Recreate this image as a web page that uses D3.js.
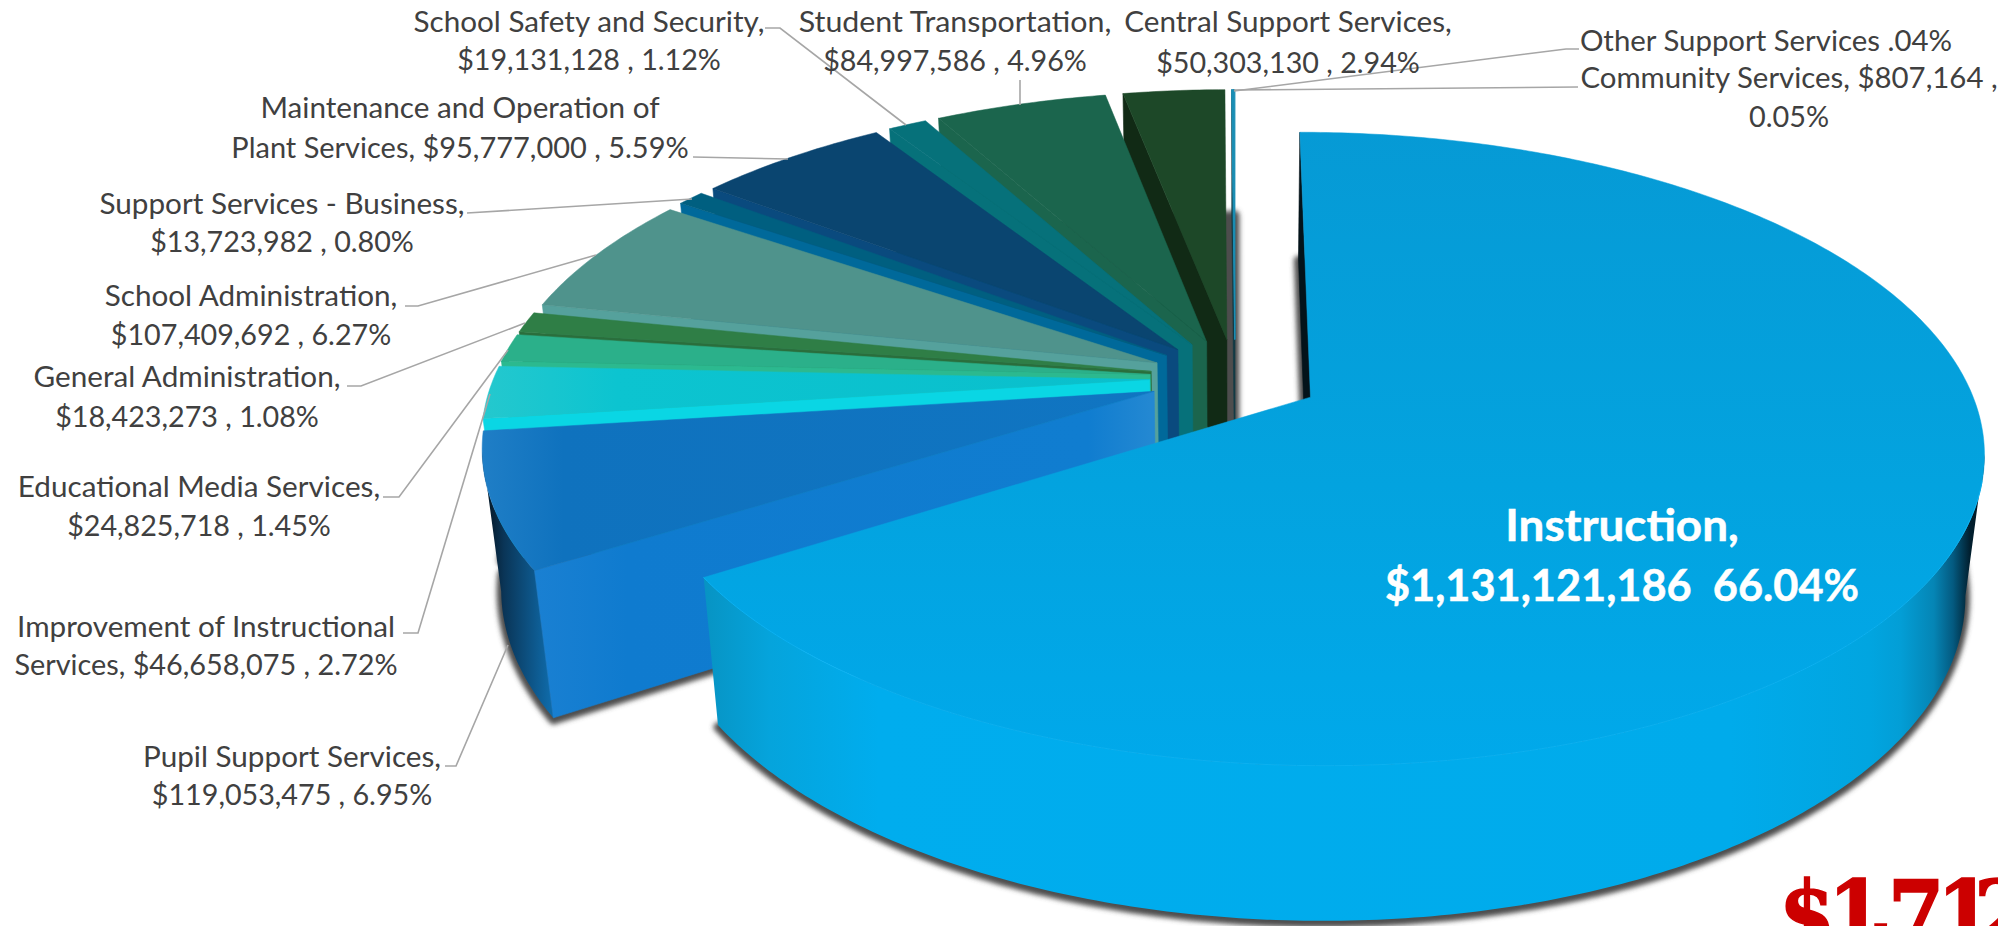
<!DOCTYPE html>
<html>
<head>
<meta charset="utf-8">
<title>General Fund Expenditures by Function</title>
<script src="https://cdn.jsdelivr.net/npm/d3@7/dist/d3.min.js"></script>
<style>
  html, body { margin: 0; padding: 0; background: #fff; overflow: hidden; }
  text { font-family: Lato, "Open Sans", sans-serif; white-space: pre; }
</style>
</head>
<body>
<svg id="chart" width="1998" height="926"></svg>
<script>
// Budget lines, in pie order starting from the top and running clockwise.
const categories = [
  "Instruction", "Pupil Support Services", "Improvement of Instructional Services",
  "Educational Media Services", "General Administration", "School Administration",
  "Support Services - Business", "Maintenance and Operation of Plant Services",
  "School Safety and Security", "Student Transportation", "Central Support Services",
  "Community Services", "Other Support Services"
];
const amounts = [
  1131121186, 119053475, 46658075, 24825718, 18423273, 107409692,
  13723982, 95777000, 19131128, 84997586, 50303130, 807164, 685000
];
const labelLines = [
  ["Instruction,", "$1,131,121,186  66.04%"],
  ["Pupil Support Services,", "$119,053,475 , 6.95%"],
  ["Improvement of Instructional", "Services, $46,658,075 , 2.72%"],
  ["Educational Media Services,", "$24,825,718 , 1.45%"],
  ["General Administration,", "$18,423,273 , 1.08%"],
  ["School Administration,", "$107,409,692 , 6.27%"],
  ["Support Services - Business,", "$13,723,982 , 0.80%"],
  ["Maintenance and Operation of", "Plant Services, $95,777,000 , 5.59%"],
  ["School Safety and Security,", "$19,131,128 , 1.12%"],
  ["Student Transportation,", "$84,997,586 , 4.96%"],
  ["Central Support Services,", "$50,303,130 , 2.94%"],
  ["Community Services, $807,164 ,", "0.05%"],
  ["Other Support Services .04%"]
];
const totalLabel = "$1,712";

// Face colours per slice: top surface, cut face, outer wall.
const topColors = ["#03A2DE", "#0F73BE", "#0CC3D0", "#2BB08A", "#2F7E46", "#4F938C", "#005F80", "#0A4570", "#06717A", "#1B654D", "#1D4828", "#1B8FB5", "#1B8FB5"];
const cutColors = ["#03131A", "#107CCF", "#0AD6E4", "#2CB98F", "#2A6E3C", "#55A19C", "#00699A", "#0A4A7E", "#06717A", "#1B654D", "#112A15", "#123A44", "#123A44"];
const wallColors = ["#00AEEF", "#0B5F9E", "#0AA6B0", "#23916F", "#255F36", "#3F7A74", "#004A66", "#083A60", "#055A62", "#154F3C", "#142F1A", "#123A44", "#123A44"];

// Centre, in-plane scale, thickness and perspective of the tilted disc.
const view = { cx: 1235, cy: 378, a: 656, b: 302, k: 0.162, m: 0.025, h: 142, explode: 0.13, startDeg: 0 };

function project(x, y, z) {
  const w = 1 - view.k * y + view.m * z;
  return [view.cx + view.a * x / w, view.cy + (view.b * y + view.h * z) / w];
}

// Text blocks: horizontal centre, line centres, per-line stretch.
const labelLayout = [
  { x: 1622, y: [526, 586], size: 44, weight: 700, fill: "#fff", sx: [1.04, 0.985] },
  { x: 292, y: [757, 795] },
  { x: 206, y: [627, 665], sx: [1.06, 1.03] },
  { x: 199, y: [487, 526] },
  { x: 187, y: [377, 417] },
  { x: 251, y: [296, 335] },
  { x: 282, y: [204, 242] },
  { x: 460, y: [108, 148], sx: [1.06, 1.035] },
  { x: 589, y: [22, 60] },
  { x: 955, y: [22, 61], sx: [1.085, 1.025] },
  { x: 1288, y: [22, 63] },
  { x: 1789, y: [78, 117], sx: [1.05, 1.03] },
  { x: 1766, y: [41], sx: [1.05] }
];
const leaderPaths = [
  null,
  [[445, 766], [456, 766], [508, 645]],
  [[403, 633], [418, 633], [490, 394]],
  [[383, 497], [399, 497], [508, 350]],
  [[347, 386], [361, 386], [525, 323]],
  [[405, 306], [418, 306], [596, 255]],
  [[467, 213], [692, 199]],
  [[693, 157], [788, 159]],
  [[765, 28], [780, 28], [906, 125]],
  [[1020, 80], [1020, 105]],
  null,
  [[1578, 87], [1234, 90]],
  [[1579, 49], [1566, 49], [1234, 91]]
];

const svg = d3.select("#chart");
const defs = svg.append("defs");

defs.append("filter").attr("id", "soften").attr("x", "-10%").attr("y", "-10%").attr("width", "120%").attr("height", "120%")
  .append("feGaussianBlur").attr("stdDeviation", 2.6);

function gradient(id, stops, x1, y1, x2, y2) {
  const g = defs.append("linearGradient").attr("id", id)
    .attr("gradientUnits", "userSpaceOnUse")
    .attr("x1", x1).attr("y1", y1).attr("x2", x2).attr("y2", y2);
  stops.forEach(([o, c]) => g.append("stop").attr("offset", o).attr("stop-color", c));
  return `url(#${id})`;
}

const instructionTop = gradient("instructionTop", [[0, "#069AD5"], [0.55, "#03A3DF"], [1, "#00A9EB"]], 0, 130, 0, 775);
const instructionWall = gradient("instructionWall",
  [[0, "#0794C4"], [0.05, "#05A4DC"], [0.135, "#00ADEE"], [0.8, "#00ABEB"], [0.91, "#01A5E0"], [0.934, "#039ED6"], [0.96, "#0585B5"], [0.975, "#045A80"], [0.988, "#012030"], [1, "#02141E"]],
  706, 0, 1985, 0);
const pupilTop = gradient("pupilTop", [[0, "#1F7EC6"], [0.12, "#0F72BE"], [1, "#1075C2"]], 483, 0, 1150, 0);
const pupilCut = gradient("pupilCut", [[0, "#1A80D2"], [0.15, "#0F7BCF"], [0.9, "#107DD0"], [1, "#2388D2"]], 535, 0, 1150, 0);
const pupilWall = gradient("pupilWall", [[0, "#04121E"], [0.3, "#0A3557"], [1, "#0F6AA8"]], 484, 0, 550, 0);
const improvementTop = gradient("improvementTop", [[0, "#24C8CE"], [0.2, "#0CC4D0"], [1, "#0ABFCC"]], 484, 0, 1150, 0);

const topFill = i => i === 0 ? instructionTop : i === 1 ? pupilTop : i === 2 ? improvementTop : topColors[i];
const cutFill = i => i === 1 ? pupilCut : cutColors[i];
const wallFill = i => i === 0 ? instructionWall : i === 1 ? pupilWall : wallColors[i];

const startRad = view.startDeg * Math.PI / 180;
const arcs = d3.pie().sort(null).value(d => d).startAngle(startRad).endAngle(startRad + 2 * Math.PI)(amounts);

const line = d3.line();

// Plane coordinates of one pulled-out slice: its apex and its rim.
const slices = arcs.map((d, i) => {
  const mid = (d.startAngle + d.endAngle) / 2;
  const ox = view.explode * Math.sin(mid), oy = -view.explode * Math.cos(mid);
  const count = Math.max(2, Math.ceil((d.endAngle - d.startAngle) / 0.012));
  const rim = d3.range(count + 1).map(j => {
    const t = d.startAngle + (d.endAngle - d.startAngle) * j / count;
    return [ox + Math.sin(t), oy - Math.cos(t)];
  });
  return { i, apex: [ox, oy], rim };
});

const atZ = (pts, z) => pts.map(p => project(p[0], p[1], z));
const closed = pts => line(pts) + "Z";

// Only the stretch of rim that runs leftwards on screen faces the viewer.
function frontRim(rim) {
  const flat = atZ(rim, 0);
  let first = -1, last = -1;
  for (let j = 0; j < flat.length - 1; j++) {
    if (flat[j + 1][0] < flat[j][0]) {
      if (first < 0) first = j;
      last = j + 1;
    }
  }
  return first < 0 ? [] : rim.slice(first, last + 1);
}

// The soft shadow only follows the underside of each slice.
const shadowLayer = svg.append("g").attr("filter", "url(#soften)").attr("transform", "translate(0,2)");
shadowLayer.selectAll("path").data(slices).join("path")
  .attr("d", s => closed(atZ([s.apex, ...s.rim], 1)))
  .attr("fill", "#4d4d4d").attr("stroke", "#4d4d4d").attr("stroke-width", 9).attr("stroke-linejoin", "round");

// Back slices first, the big Instruction slice last.
const order = d3.range(1, slices.length).reverse().concat([0]);
const pieLayer = svg.append("g");
order.forEach(idx => {
  const s = slices[idx];
  const g = pieLayer.append("g");
  const cutEdge = [s.apex, s.rim[0]];
  const front = frontRim(s.rim);
  if (front.length) {
    g.append("path")
      .attr("d", closed([...atZ(front, 0), ...atZ(front, 1).reverse()]))
      .attr("fill", wallFill(idx));
  }
  g.append("path")
    .attr("d", closed([...atZ(cutEdge, 0), ...atZ(cutEdge, 1).reverse()]))
    .attr("fill", cutFill(idx))
    .attr("stroke", cutFill(idx)).attr("stroke-width", 0.6);
  g.append("path")
    .attr("d", closed(atZ([s.apex, ...s.rim], 0)))
    .attr("fill", topFill(idx))
    .attr("stroke", topFill(idx))
    .attr("stroke-width", amounts[idx] < 1e6 ? 1 : 0.5);
});

// Faint highlight along the front rim of the Instruction slice.
pieLayer.append("path")
  .attr("d", line(atZ(slices[0].rim, 0).filter(p => p[1] > 480)))
  .attr("fill", "none").attr("stroke", "#0BB2F2").attr("stroke-width", 1);

// Leader lines.
svg.append("g").selectAll("path")
  .data(leaderPaths.filter(Boolean)).join("path")
  .attr("d", d => line(d))
  .attr("fill", "none").attr("stroke", "#A6A6A6").attr("stroke-width", 1.6);

// Category labels.
const labels = svg.append("g");
labelLines.forEach((lines, i) => {
  const l = labelLayout[i];
  const stretch = l.sx || [1.06, 1.025];
  lines.forEach((t, j) => {
    labels.append("text")
      .attr("transform", `translate(${l.x},${l.y[j]}) scale(${stretch[j]},1)`)
      .attr("dy", "0.35em")
      .attr("text-anchor", "middle")
      .attr("font-size", l.size || 28)
      .attr("font-weight", l.weight || 400)
      .attr("fill", l.fill || "#404040")
      .attr("stroke", l.weight ? l.fill : "none")
      .attr("stroke-width", l.weight ? 0.5 : 0)
      .text(t);
  });
});

// Budget total, running off the lower right corner.
svg.append("text")
  .attr("x", [1779, 1828, 1866, 1888, 1937, 1974].join(" "))
  .attr("y", [945, 945, 938, 945, 945, 945].join(" "))
  .attr("font-size", 90).attr("font-weight", 700)
  .attr("fill", "#CC0000").attr("stroke", "#CC0000").attr("stroke-width", 1.5)
  .style("font-family", '"DejaVu Serif Condensed", "DejaVu Serif", serif')
  .style("font-stretch", "condensed")
  .text(totalLabel);
</script>
</body>
</html>
